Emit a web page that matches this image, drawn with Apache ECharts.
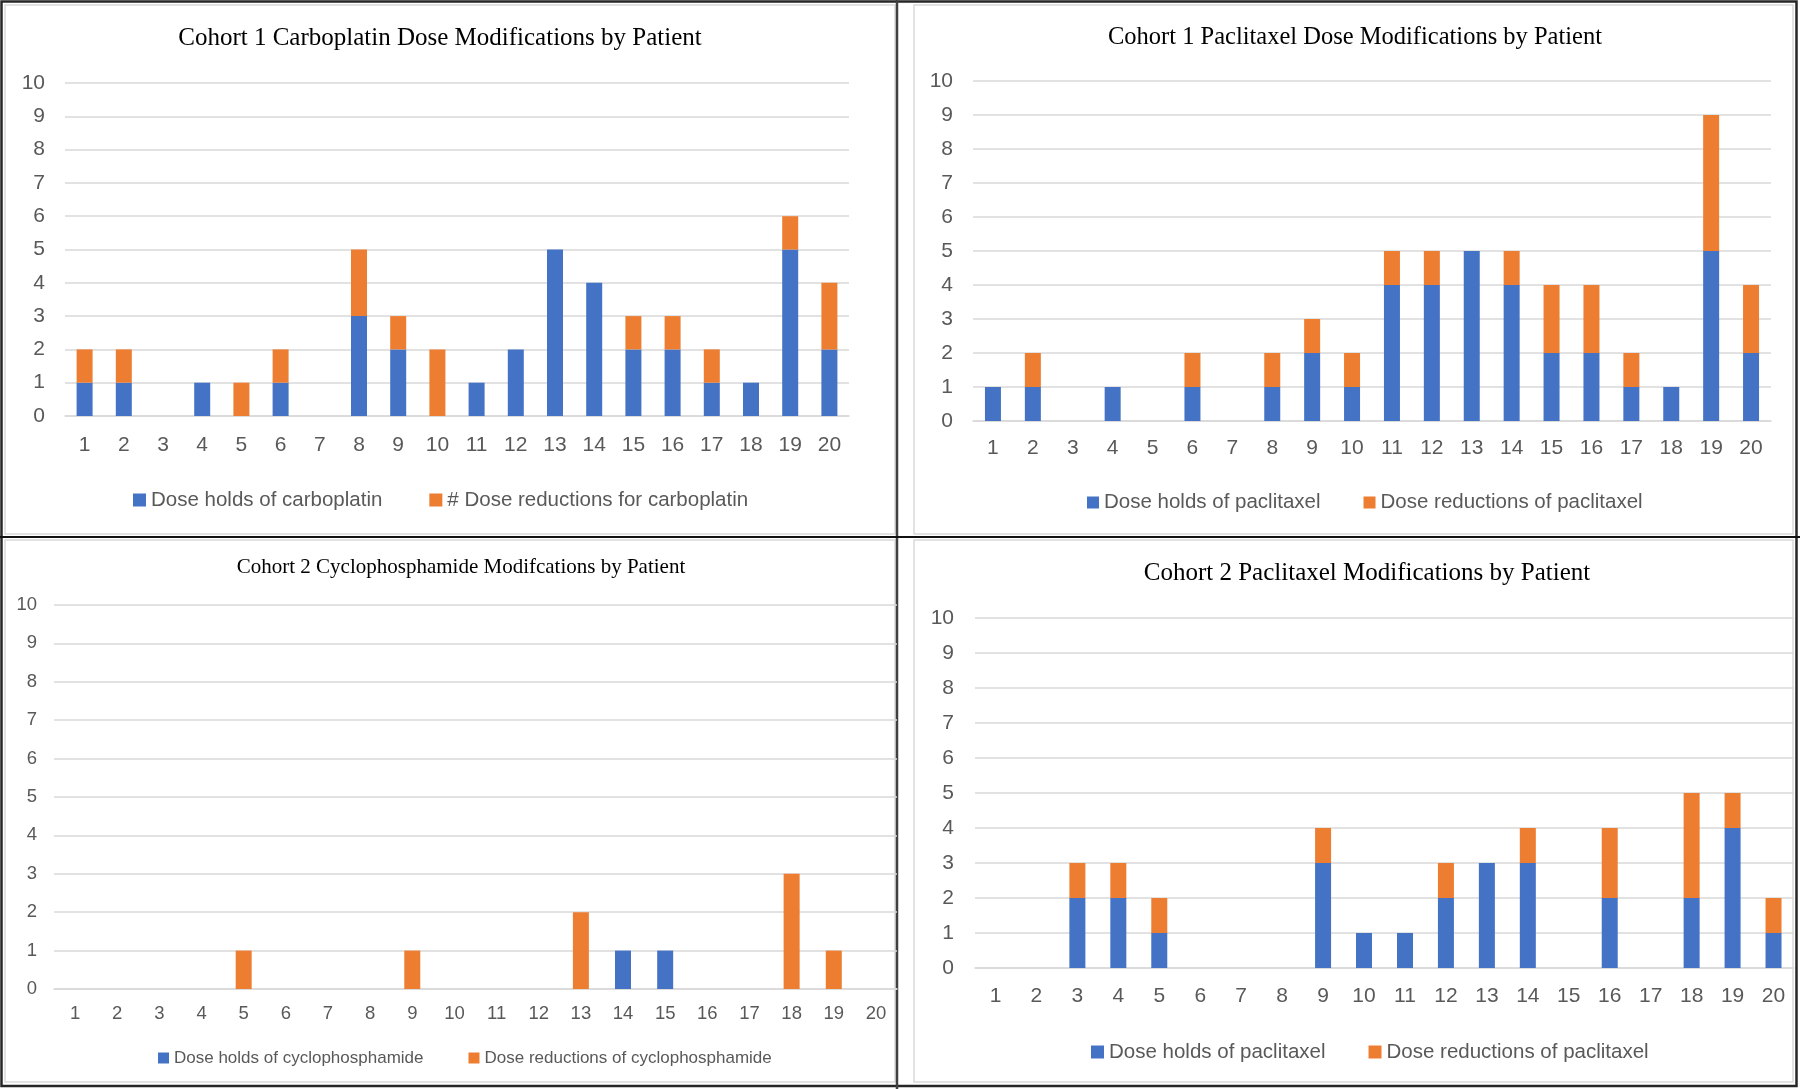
<!DOCTYPE html>
<html>
<head>
<meta charset="utf-8">
<script src="https://cdn.jsdelivr.net/npm/echarts@6/dist/echarts.min.js"></script>
<style>
html,body{margin:0;padding:0;background:#fff;}
#main{width:1800px;height:1089px;}
</style>
</head>
<body>
<div id="main"></div>
<script>
// ---- Data ----
const patients = ['1','2','3','4','5','6','7','8','9','10','11','12','13','14','15','16','17','18','19','20'];
const yTickMin = 0, yTickMax = 10, yTickStep = 1;

const c1CarboTitle = 'Cohort 1 Carboplatin Dose Modifications by Patient';
const c1CarboHoldsName = 'Dose holds of carboplatin';
const c1CarboRedName = '# Dose reductions for carboplatin';
const c1CarboHolds      = [1,1,0,1,0,1,0,3,2,0,1,2,5,4,2,2,1,1,5,2];
const c1CarboReductions = [1,1,0,0,1,1,0,2,1,2,0,0,0,0,1,1,1,0,1,2];

const c1PacliTitle = 'Cohort 1 Paclitaxel Dose Modifications by Patient';
const pacliHoldsName = 'Dose holds of paclitaxel';
const pacliRedName = 'Dose reductions of paclitaxel';
const c1PacliHolds      = [1,1,0,1,0,1,0,1,2,1,4,4,5,4,2,2,1,1,5,2];
const c1PacliReductions = [0,1,0,0,0,1,0,1,1,1,1,1,0,1,2,2,1,0,4,2];

const c2CycloTitle = 'Cohort 2 Cyclophosphamide Modifcations by Patient';
const c2CycloHoldsName = 'Dose holds of cyclophosphamide';
const c2CycloRedName = 'Dose reductions of cyclophosphamide';
const c2CycloHolds      = [0,0,0,0,0,0,0,0,0,0,0,0,0,1,1,0,0,0,0,0];
const c2CycloReductions = [0,0,0,0,1,0,0,0,1,0,0,0,2,0,0,0,0,3,1,0];

const c2PacliTitle = 'Cohort 2 Paclitaxel Modifications by Patient';
const c2PacliHolds      = [0,0,2,2,1,0,0,0,3,1,1,2,3,3,0,2,0,2,4,1];
const c2PacliReductions = [0,0,1,1,1,0,0,0,1,0,0,1,0,1,0,2,0,3,1,1];

// ---- Styling ----
const BLUE = '#4472C4', ORANGE = '#ED7D31';
const SANS = '"Liberation Sans", Arial, sans-serif';
const SERIF = '"Liberation Serif", "Times New Roman", serif';
const LABEL_COLOR = '#595959';
const GRID_COLOR = '#d9d9d9';

const panels = [
  {title:c1CarboTitle, tx:440, ty:41, tfs:25, grid:{left:65, top:83, width:784, height:333}, yMargin:20, xMargin:19, fs:21,
   holds:c1CarboHolds, red:c1CarboReductions, hn:c1CarboHoldsName, rn:c1CarboRedName, lg:{left:133, cy:496, sq:13, gap:47, fs:20.5}},
  {title:c1PacliTitle, tx:1355, ty:40, tfs:24.5, grid:{left:973, top:81, width:798, height:340}, yMargin:20, xMargin:17, fs:21,
   holds:c1PacliHolds, red:c1PacliReductions, hn:pacliHoldsName, rn:pacliRedName, lg:{left:1087, cy:498, sq:12, gap:43, fs:20.5}},
  {title:c2CycloTitle, tx:461, ty:570, tfs:21, grid:{left:54, top:605, width:843, height:384}, yMargin:17, xMargin:15, fs:18.5,
   holds:c2CycloHolds, red:c2CycloReductions, hn:c2CycloHoldsName, rn:c2CycloRedName, lg:{left:158, cy:1055, sq:11, gap:45, fs:17}},
  {title:c2PacliTitle, tx:1367, ty:576, tfs:25, grid:{left:975, top:618, width:819, height:350}, yMargin:21, xMargin:18, fs:21,
   holds:c2PacliHolds, red:c2PacliReductions, hn:pacliHoldsName, rn:pacliRedName, lg:{left:1091, cy:1048, sq:13, gap:43, fs:20.5}}
];

const option = {
  backgroundColor:'#ffffff',
  animation:false,
  title:[], grid:[], xAxis:[], yAxis:[], legend:[], series:[],
  graphic:[]
};

panels.forEach((p,i)=>{
  option.title.push({
    text:p.title, left:p.tx, top:p.ty - p.tfs*0.6, textAlign:'center', padding:0,
    textStyle:{fontFamily:SERIF, fontWeight:'normal', fontSize:p.tfs, color:'#000'}
  });
  option.grid.push(Object.assign({containLabel:false}, p.grid));
  option.xAxis.push({
    type:'category', gridIndex:i, data:patients,
    axisLine:{show:true, lineStyle:{color:GRID_COLOR, width:1.5}},
    axisTick:{show:false},
    axisLabel:{color:LABEL_COLOR, fontFamily:SANS, fontSize:p.fs, margin:p.xMargin, interval:0}
  });
  option.yAxis.push({
    type:'value', gridIndex:i, min:yTickMin, max:yTickMax, interval:yTickStep,
    axisLine:{show:false}, axisTick:{show:false},
    splitLine:{lineStyle:{color:GRID_COLOR, width:1.5}},
    axisLabel:{color:LABEL_COLOR, fontFamily:SANS, fontSize:p.fs, margin:p.yMargin}
  });
  option.legend.push({
    data:[p.hn, p.rn], left:p.lg.left, top:p.lg.cy - p.lg.sq/2, padding:0,
    icon:'rect', itemWidth:p.lg.sq, itemHeight:p.lg.sq, itemGap:p.lg.gap,
    selectedMode:false,
    textStyle:{color:LABEL_COLOR, fontFamily:SANS, fontSize:p.lg.fs}
  });
  option.series.push({
    name:p.hn, type:'bar', stack:'s'+i, xAxisIndex:i, yAxisIndex:i, data:p.holds,
    barWidth:16, itemStyle:{color:BLUE}
  });
  option.series.push({
    name:p.rn, type:'bar', stack:'s'+i, xAxisIndex:i, yAxisIndex:i, data:p.red,
    barWidth:16, itemStyle:{color:ORANGE}
  });
});

// panel frames
const light = {stroke:'#d9d9d9', lineWidth:1.5, fill:null};
option.graphic = [
  {type:'rect', shape:{x:5, y:5, width:890, height:529}, style:light, silent:true},
  {type:'rect', shape:{x:914, y:5, width:879, height:529}, style:light, silent:true},
  {type:'rect', shape:{x:5, y:540, width:890, height:542}, style:light, silent:true},
  {type:'rect', shape:{x:914, y:540, width:879, height:542}, style:light, silent:true},
  {type:'rect', shape:{x:1.5, y:1.5, width:1795, height:1084.5}, style:{stroke:'#262626', lineWidth:2.5, fill:null}, silent:true},
  {type:'line', shape:{x1:897, y1:0, x2:897, y2:1089}, style:{stroke:'#404040', lineWidth:2.5}, silent:true},
  {type:'line', shape:{x1:0, y1:537, x2:1800, y2:537}, style:{stroke:'#111', lineWidth:1.8}, silent:true}
];

const chart = echarts.init(document.getElementById('main'), null, {renderer:'canvas'});
chart.setOption(option);
</script>
</body>
</html>
